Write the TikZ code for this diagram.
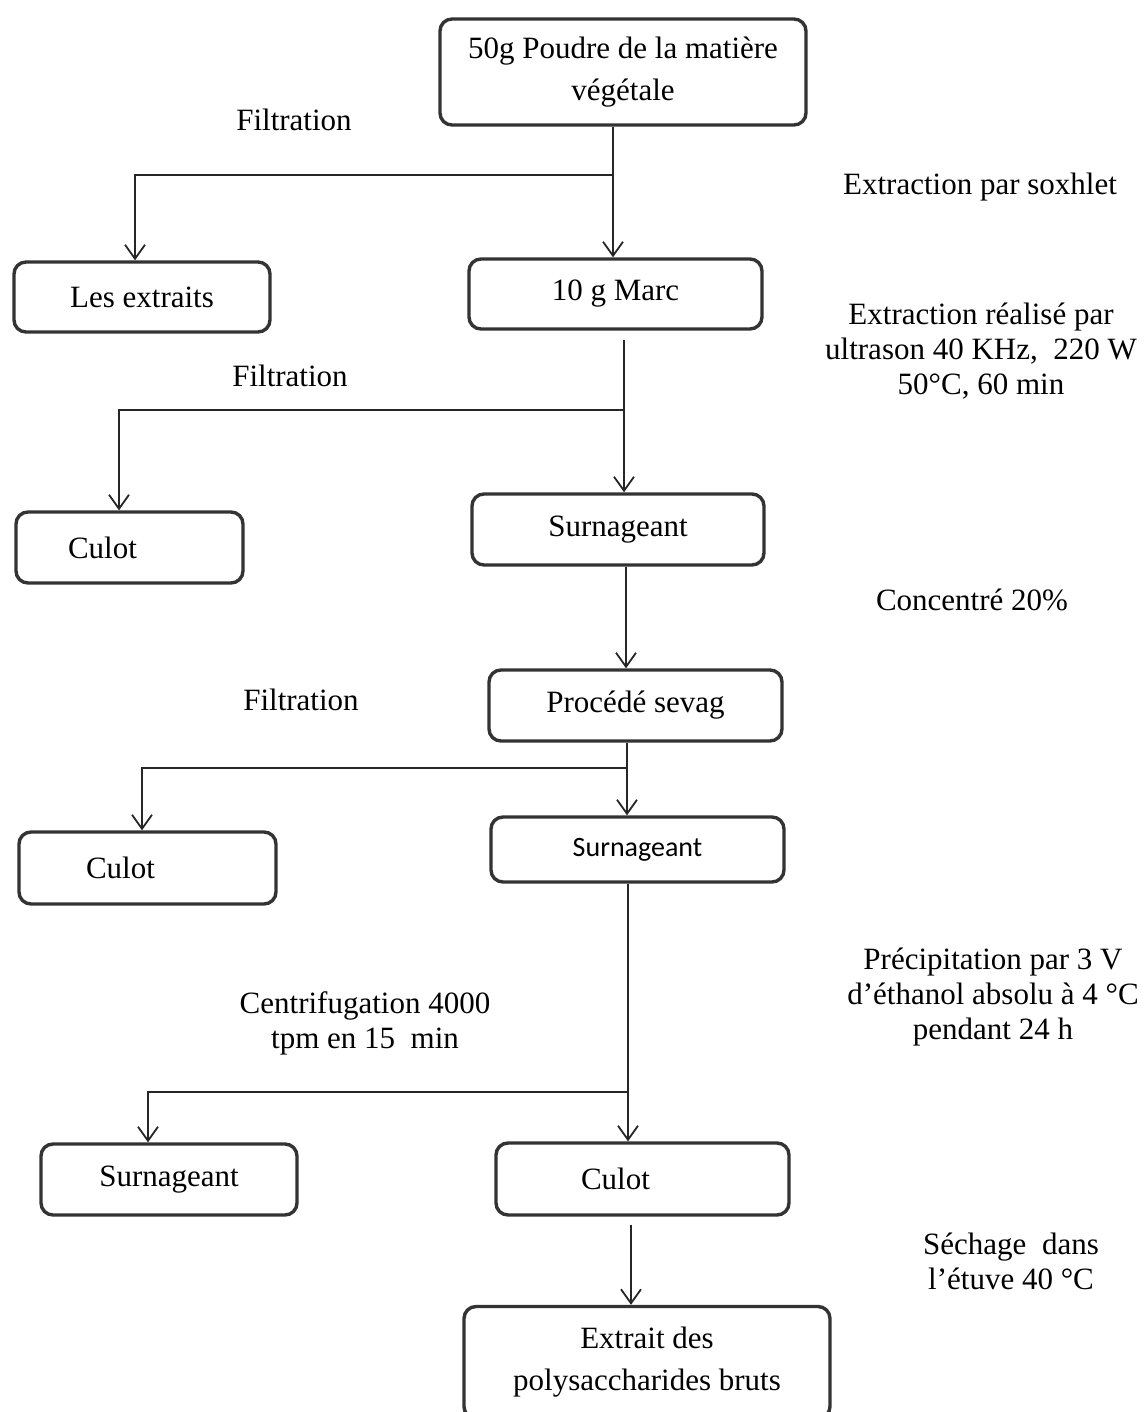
\documentclass[tikz,border=0pt]{standalone}
\usepackage{fontspec}
\setmainfont{Liberation Serif}
\newfontfamily\calib{Carlito}
\usetikzlibrary{arrows.meta}
\begin{document}
\begin{tikzpicture}[x=0.5pt,y=-0.5pt,
  box/.style={draw=black!80, line width=1.7pt, rounded corners=6pt, inner sep=0pt,
    align=center, font=\fontsize{15.5}{21}\selectfont},
  lbl/.style={align=center, inner sep=0pt, font=\fontsize{15.5}{17.5}\selectfont},
  arr/.style={draw=black!85, line width=0.9pt, -{Straight Barb[length=7pt,width=10pt,line width=0.9pt]}},
  ln/.style={draw=black!85, line width=0.9pt}]
\useasboundingbox (0,0) rectangle (1146,1412);
% boxes
\node[box, minimum width=183pt, minimum height=53pt] (b1) at (623,72) {50g Poudre de la matière\\végétale};
\node[box, minimum width=128pt, minimum height=35pt] (ext) at (142,297) {Les extraits};
\node[box, minimum width=146.5pt, minimum height=35pt] (marc) at (615.5,294) {10 g Marc};
\node[box, minimum width=113.5pt, minimum height=35.5pt] (c1) at (129.5,547.5) {Culot\kern27pt};
\node[box, minimum width=146pt, minimum height=35.5pt] (s1) at (618,529.5) {Surnageant};
\node[box, minimum width=146.5pt, minimum height=35.5pt] (sev) at (635.5,705.5) {Procédé sevag};
\node[box, minimum width=128.5pt, minimum height=36pt] (c2) at (147.5,868) {Culot\kern27pt};
\node[box, minimum width=146.5pt, minimum height=32.5pt, font=\calib\fontsize{14}{17}\selectfont] (s2) at (637.5,849.5) {Surnageant};
\node[box, minimum width=128pt, minimum height=35.5pt] (s3) at (169,1179.5) {Surnageant};
\node[box, minimum width=146.5pt, minimum height=36pt] (c3) at (642.5,1179) {Culot\kern27pt};
\node[box, minimum width=183pt, minimum height=56pt] (fin) at (647,1362.5) {Extrait des\\polysaccharides bruts};
% labels
\node[lbl] (l1) at (294,120) {Filtration};
\node[lbl] (l2) at (980,187) {Extraction par soxhlet};
\node[lbl] (l3) at (981,351) {Extraction réalisé par\\ultrason 40 KHz,\ \ 220 W\\50°C, 60 min};
\node[lbl] (l4) at (290,376) {Filtration};
\node[lbl] (l5) at (972,600) {Concentré 20\%};
\node[lbl] (l6) at (301,700) {Filtration};
\node[lbl] (l7) at (993,997) {Précipitation par 3 V\\d’éthanol absolu à 4 °C\\pendant 24 h};
\node[lbl] (l8) at (365,1023) {Centrifugation 4000\\tpm en 15\ \ min};
\node[lbl] (l9) at (1011,1261) {Séchage\ \ dans\\l’étuve 40 °C};
% junctions
\coordinate (j1) at (613,175);  \coordinate (k1) at (135,175);
\coordinate (j2) at (624,410);  \coordinate (k2) at (119,410);
\coordinate (j3) at (627,768);  \coordinate (k3) at (142,768);
\coordinate (j4) at (628,1092); \coordinate (k4) at (148,1092);
\coordinate (m3) at (626,600);
\coordinate (m6) at (631,1260);
% connectors
\draw[arr] (j1 |- b1.south) -- (j1 |- marc.north);
\draw[arr] (j1) -- (k1) -- (k1 |- ext.north);
\draw[arr, shorten <=4.5pt] (j2 |- marc.south) -- (j2 |- s1.north);
\draw[arr] (j2) -- (k2) -- (k2 |- c1.north);
\draw[arr] (m3 |- s1.south) -- (m3 |- sev.north);
\draw[arr] (j3 |- sev.south) -- (j3 |- s2.north);
\draw[arr] (j3) -- (k3) -- (k3 |- c2.north);
\draw[arr] (j4 |- s2.south) -- (j4 |- c3.north);
\draw[arr] (j4) -- (k4) -- (k4 |- s3.north);
\draw[arr, shorten <=4pt] (m6 |- c3.south) -- (m6 |- fin.north);
\end{tikzpicture}
\end{document}
